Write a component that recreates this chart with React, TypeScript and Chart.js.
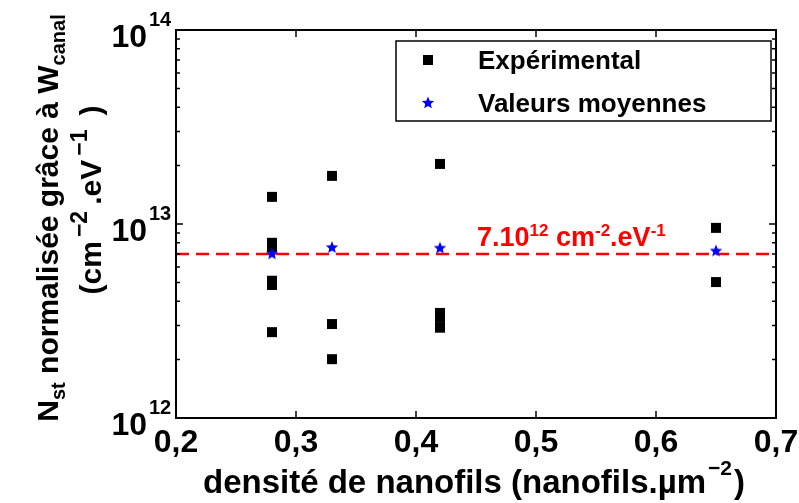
import React, { useEffect, useRef } from "react";
import { Chart, registerables } from "chart.js";

Chart.register(...registerables);

// ---------- data ----------
const expX = [0.28, 0.28, 0.28, 0.28, 0.28, 0.28, 0.33, 0.33, 0.33, 0.42, 0.42, 0.42, 0.42, 0.65, 0.65];
const expY = [1.38e13, 8.0e12, 7.6e12, 5.1e12, 4.85e12, 2.77e12, 1.77e13, 3.05e12, 2.01e12, 2.04e13, 3.48e12, 3.28e12, 2.92e12, 9.55e12, 5.02e12];
const meanX = [0.28, 0.33, 0.42, 0.65];
const meanY = [7.05e12, 7.6e12, 7.55e12, 7.3e12];
const refLevel = 7e12;
const xMin = 0.2;
const xMax = 0.7;
const xTickValues = [0.2, 0.3, 0.4, 0.5, 0.6, 0.7];
const xTickLabels = ["0,2", "0,3", "0,4", "0,5", "0,6", "0,7"];
const yExponents = [12, 13, 14];
const yMinorMult = [2, 3, 4, 5, 6, 7, 8, 9];
const legendLabels = ["Expérimental", "Valeurs moyennes"];

const FONT = '"Liberation Sans", Arial, Helvetica, sans-serif';

type Seg = { text: string; size: number; dy?: number; gap?: number };

function drawRich(ctx: CanvasRenderingContext2D, segs: Seg[], x: number, y: number, align: "left" | "center" | "right", color: string) {
  let total = 0;
  const widths: number[] = [];
  for (const s of segs) {
    ctx.font = `bold ${s.size}px ${FONT}`;
    const w = ctx.measureText(s.text).width + (s.gap || 0);
    widths.push(w);
    total += w;
  }
  let cur = align === "left" ? x : align === "center" ? x - total / 2 : x - total;
  ctx.fillStyle = color;
  ctx.textAlign = "left";
  ctx.textBaseline = "alphabetic";
  segs.forEach((s, i) => {
    ctx.font = `bold ${s.size}px ${FONT}`;
    ctx.fillText(s.text, cur, y + (s.dy || 0));
    cur += widths[i];
  });
}

function drawStar(ctx: CanvasRenderingContext2D, cx: number, cy: number, R: number, r: number, color: string) {
  ctx.beginPath();
  for (let i = 0; i < 10; i++) {
    const rad = i % 2 === 0 ? R : r;
    const a = -Math.PI / 2 + (i * Math.PI) / 5;
    const px = cx + rad * Math.cos(a);
    const py = cy + rad * Math.sin(a);
    if (i === 0) ctx.moveTo(px, py);
    else ctx.lineTo(px, py);
  }
  ctx.closePath();
  ctx.fillStyle = color;
  ctx.fill();
}

function makeStarCanvas() {
  const c = document.createElement("canvas");
  c.width = 14;
  c.height = 14;
  const g = c.getContext("2d")!;
  drawStar(g, 7, 7.5, 6.5, 2.9, "#0000ff");
  return c;
}

const decorPlugin = {
  id: "decor",
  afterDraw(chart: any) {
    const ctx: CanvasRenderingContext2D = chart.ctx;
    const xs = chart.scales.x;
    const ys = chart.scales.y;
    const { left, right, top, bottom } = chart.chartArea;
    ctx.save();

    // frame
    ctx.strokeStyle = "#000";
    ctx.lineWidth = 2;
    ctx.strokeRect(left, top, right - left, bottom - top);

    // x ticks
    ctx.lineWidth = 1.5;
    xTickValues.forEach((v, i) => {
      const px = xs.getPixelForValue(v);
      ctx.beginPath();
      ctx.moveTo(px, bottom);
      ctx.lineTo(px, bottom - 7);
      ctx.moveTo(px, top);
      ctx.lineTo(px, top + 7);
      ctx.stroke();
      drawRich(ctx, [{ text: xTickLabels[i], size: 32 }], px, 452, "center", "#000");
    });

    // y ticks
    yExponents.forEach((e, idx) => {
      const py = ys.getPixelForValue(Math.pow(10, e));
      ctx.beginPath();
      ctx.moveTo(left, py);
      ctx.lineTo(left + 7, py);
      ctx.moveTo(right, py);
      ctx.lineTo(right - 7, py);
      ctx.stroke();
      ctx.font = `bold 32px ${FONT}`;
      ctx.fillStyle = "#000";
      ctx.textAlign = "right";
      ctx.fillText("10", 147, py + 17);
      ctx.textAlign = "left";
      ctx.font = `bold 20px ${FONT}`;
      ctx.fillText(String(e), 149, py - 4);
      if (idx < yExponents.length - 1) {
        yMinorMult.forEach((m) => {
          const pm = ys.getPixelForValue(m * Math.pow(10, e));
          ctx.beginPath();
          ctx.moveTo(left, pm);
          ctx.lineTo(left + 4, pm);
          ctx.moveTo(right, pm);
          ctx.lineTo(right - 4, pm);
          ctx.stroke();
        });
      }
    });

    // x title
    drawRich(
      ctx,
      [
        { text: "densité de nanofils (nanofils.µm", size: 33, gap: 2 },
        { text: "−2", size: 21, dy: -18, gap: 2 },
        { text: ")", size: 33 },
      ],
      474,
      493,
      "center",
      "#000"
    );

    // y title line 1
    ctx.save();
    ctx.translate(58, 218);
    ctx.rotate(-Math.PI / 2);
    drawRich(
      ctx,
      [
        { text: "N", size: 30 },
        { text: "st", size: 20, dy: 7 },
        { text: " normalisée grâce à W", size: 30 },
        { text: "canal", size: 20, dy: 7 },
      ],
      0,
      0,
      "center",
      "#000"
    );
    ctx.restore();

    // y title line 2
    ctx.save();
    ctx.translate(101, 200);
    ctx.rotate(-Math.PI / 2);
    drawRich(
      ctx,
      [
        { text: "(cm", size: 30, gap: 4 },
        { text: "−2", size: 23, dy: -14, gap: 6 },
        { text: ".eV", size: 30, gap: 4 },
        { text: "−1", size: 23, dy: -14, gap: 14 },
        { text: ")", size: 30 },
      ],
      0,
      0,
      "center",
      "#000"
    );
    ctx.restore();

    // annotation
    drawRich(
      ctx,
      [
        { text: "7.10", size: 27 },
        { text: "12", size: 17, dy: -10 },
        { text: " cm", size: 27 },
        { text: "-2", size: 17, dy: -10 },
        { text: ".eV", size: 27 },
        { text: "-1", size: 17, dy: -10 },
      ],
      477,
      246,
      "left",
      "#ff0000"
    );

    // legend
    ctx.fillStyle = "#fff";
    ctx.fillRect(396, 41, 375, 80);
    ctx.strokeStyle = "#000";
    ctx.lineWidth = 1.5;
    ctx.strokeRect(396, 41, 375, 80);
    ctx.fillStyle = "#000";
    ctx.fillRect(423, 55, 10, 10);
    drawStar(ctx, 428, 103, 6.5, 2.9, "#0000ff");
    drawRich(ctx, [{ text: legendLabels[0], size: 26 }], 478, 69, "left", "#000");
    drawRich(ctx, [{ text: legendLabels[1], size: 26 }], 478, 112, "left", "#000");

    ctx.restore();
  },
};

export default function App() {
  const ref = useRef<HTMLCanvasElement>(null);
  useEffect(() => {
    document.body.style.margin = "0";
    const starImg = makeStarCanvas();
    const chart = new Chart(ref.current!, {
      type: "scatter",
      data: {
        datasets: [
          {
            label: legendLabels[1],
            data: meanX.map((x, i) => ({ x, y: meanY[i] })),
            pointStyle: starImg as any,
            pointRadius: 7,
            backgroundColor: "#0000ff",
            borderColor: "#0000ff",
          },
          {
            label: "ref",
            type: "line" as any,
            data: [
              { x: xMin, y: refLevel },
              { x: xMax, y: refLevel },
            ],
            borderColor: "#ff0000",
            borderWidth: 2.5,
            borderDash: [13, 7],
            pointRadius: 0,
            showLine: true,
            fill: false,
          },
          {
            label: legendLabels[0],
            data: expX.map((x, i) => ({ x, y: expY[i] })),
            pointStyle: "rect",
            pointRadius: 7.07,
            backgroundColor: "#000",
            borderColor: "#000",
            borderWidth: 0,
          },
        ],
      },
      options: {
        responsive: false,
        devicePixelRatio: 1,
        animation: false,
        events: [],
        layout: { padding: { top: 30, right: 23, left: 0, bottom: 0 } },
        plugins: { legend: { display: false }, tooltip: { enabled: false } },
        scales: {
          x: {
            type: "linear",
            min: xMin,
            max: xMax,
            grid: { display: false },
            border: { display: false },
            ticks: { display: false },
            afterFit: (s: any) => {
              s.height = 85;
            },
          },
          y: {
            type: "logarithmic",
            min: 1e12,
            max: 1e14,
            grid: { display: false },
            border: { display: false },
            ticks: { display: false },
            afterFit: (s: any) => {
              s.width = 176;
            },
          },
        },
      },
      plugins: [decorPlugin],
    });
    return () => chart.destroy();
  }, []);
  return (
    <div style={{ width: 799, height: 503 }}>
      <canvas ref={ref} width={799} height={503} style={{ display: "block" }} />
    </div>
  );
}
